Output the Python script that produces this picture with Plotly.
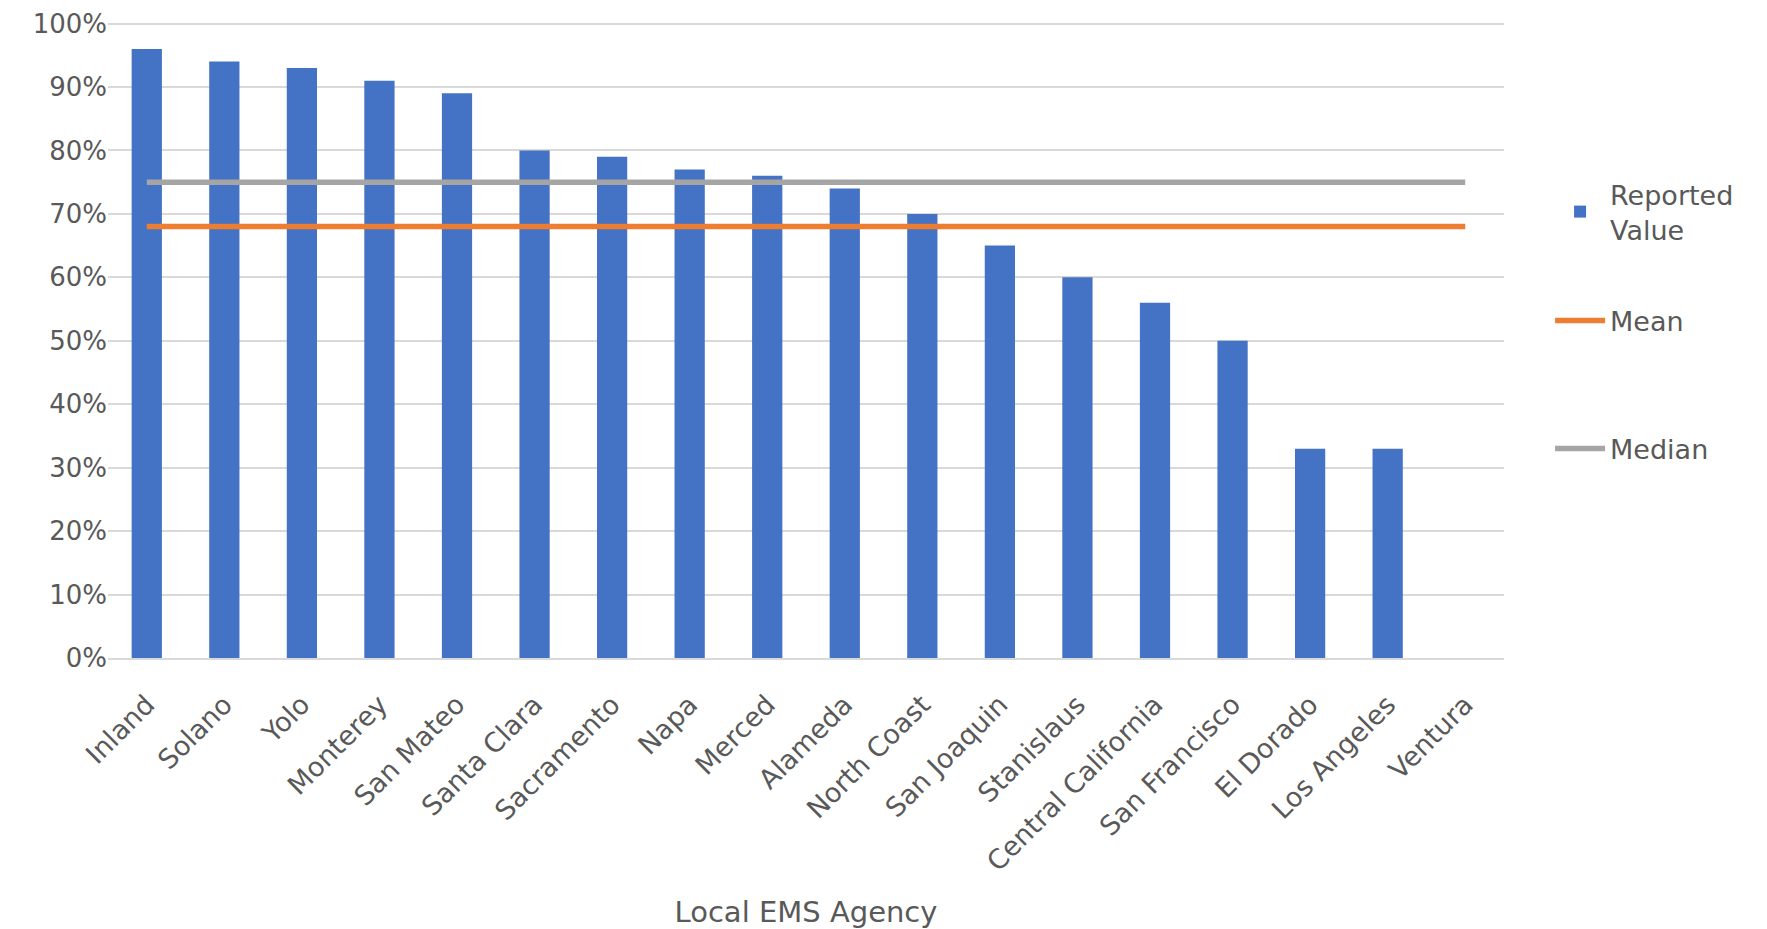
import plotly.graph_objects as go

agencies = ["Inland", "Solano", "Yolo", "Monterey", "San Mateo", "Santa Clara", "Sacramento",
            "Napa", "Merced", "Alameda", "North Coast", "San Joaquin", "Stanislaus",
            "Central California", "San Francisco", "El Dorado", "Los Angeles", "Ventura"]
reported = [0.96, 0.94, 0.93, 0.91, 0.89, 0.80, 0.79, 0.77, 0.76, 0.74, 0.70, 0.65, 0.60,
            0.56, 0.50, 0.33, 0.33, 0.0]
mean_val = [0.68] * len(agencies)
median_val = [0.75] * len(agencies)
y_ticks = [0, 0.1, 0.2, 0.3, 0.4, 0.5, 0.6, 0.7, 0.8, 0.9, 1.0]

FONT = "DejaVu Sans"
GRAY_TXT = "#595959"

fig = go.Figure()
fig.add_trace(go.Bar(x=agencies, y=reported, name="Reported<br>Value", showlegend=True,
                     marker=dict(color="#4472C4", line=dict(width=0)), legend="legend"))
fig.add_trace(go.Scatter(x=agencies, y=mean_val, name="Mean", mode="lines", showlegend=True,
                         line=dict(color="#ED7D31", width=5.5), legend="legend2"))
fig.add_trace(go.Scatter(x=agencies, y=median_val, name="Median", mode="lines", showlegend=True,
                         line=dict(color="#A5A5A5", width=5.5), legend="legend3"))

# page body adds an 8px offset; compensate
OFF = 8
W, H = 1767 - OFF, 929 - OFF
L, R, T, B = 108 - OFF, 263, 21 - OFF, 271
ph = H - T - B

def ly(py):
    # py: target pixel y in the final screenshot
    return (929 - B - py) / ph

leg_common = dict(xref="paper", yref="paper", x=1.033, xanchor="left", yanchor="middle",
                  font=dict(family=FONT, size=27, color=GRAY_TXT), bgcolor="rgba(0,0,0,0)",
                  itemwidth=50)

fig.update_layout(
    width=W, height=H,
    margin=dict(l=L, r=R, t=T, b=B),
    plot_bgcolor="white", paper_bgcolor="white",
    bargap=0.61,
    showlegend=True,
    font=dict(family=FONT, color=GRAY_TXT),
    legend=dict(**leg_common, y=ly(212)),
    legend2=dict(**leg_common, y=ly(321)),
    legend3=dict(**leg_common, y=ly(449)),
    xaxis=dict(
        tickangle=-45, tickfont=dict(family=FONT, size=27, color=GRAY_TXT),
        ticklabelstandoff=18,
        showline=True, linecolor="#d9d9d9", linewidth=2, showgrid=False,
        ticks="", title=dict(text="Local EMS Agency", font=dict(family=FONT, size=29, color=GRAY_TXT),
                             standoff=34),
        automargin=False,
    ),
    yaxis=dict(
        range=[0, 1.004], tickvals=y_ticks, tickformat=".0%",
        tickfont=dict(family=FONT, size=26, color=GRAY_TXT),
        ticklabeloverflow="allow",
        showgrid=True, gridcolor="#d9d9d9", gridwidth=2, zeroline=False,
        ticks="", ticklen=0, automargin=False,
    ),
)

fig.write_html("out.html")
